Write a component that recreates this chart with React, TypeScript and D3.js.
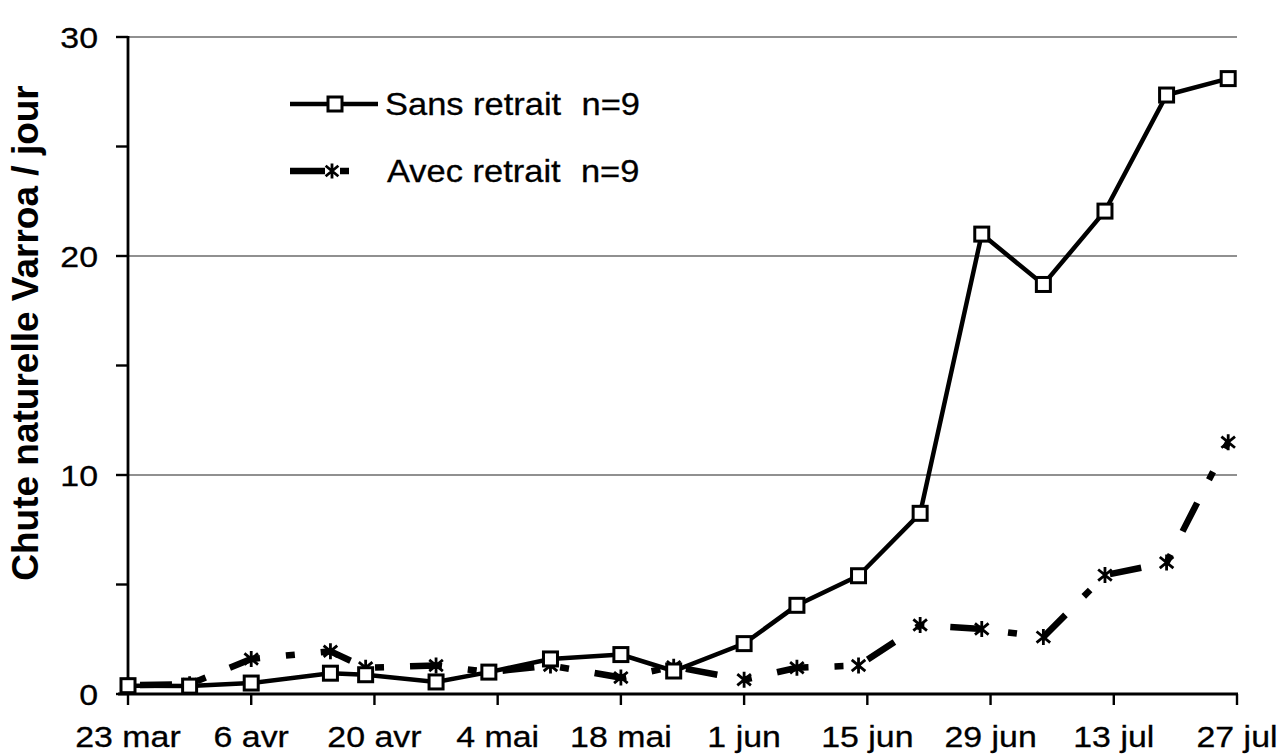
import React from "react";
import * as d3 from "d3";

const dates = [
  "2001-03-23", "2001-03-30", "2001-04-06", "2001-04-15", "2001-04-19",
  "2001-04-27", "2001-05-03", "2001-05-10", "2001-05-18", "2001-05-24",
  "2001-06-01", "2001-06-07", "2001-06-14", "2001-06-21", "2001-06-28",
  "2001-07-05", "2001-07-12", "2001-07-19", "2001-07-26",
];
const sansRetrait = [0.38, 0.36, 0.5, 0.95, 0.88, 0.55, 1.0, 1.6, 1.8, 1.05, 2.3, 4.05, 5.4, 8.25, 21.0, 18.7, 22.05, 27.35, 28.1];
const avecRetrait = [0.4, 0.45, 1.6, 1.95, 1.2, 1.3, 1.0, 1.3, 0.75, 1.25, 0.65, 1.2, 1.3, 3.15, 2.97, 2.6, 5.43, 6.0, 11.5];

const tickDates = [
  "2001-03-23", "2001-04-06", "2001-04-20", "2001-05-04", "2001-05-18",
  "2001-06-01", "2001-06-15", "2001-06-29", "2001-07-13", "2001-07-27",
];
const tickLabels = ["23 mar", "6 avr", "20 avr", "4 mai", "18 mai", "1 jun", "15 jun", "29 jun", "13 jul", "27 jul"];
const yTickValues = [0, 5, 10, 15, 20, 25, 30];
const yLabelValues = [0, 10, 20, 30];

const series1Name = "Sans retrait  n=9";
const series2Name = "Avec retrait  n=9";
const yTitle = "Chute naturelle Varroa / jour";

const W = 1282;
const H = 755;
const FONT = "'Liberation Sans', Arial, Helvetica, sans-serif";

const parse = d3.timeParse("%Y-%m-%d");

function asteriskPath(cx: number, cy: number, r: number) {
  const dx = r * 0.85;
  const dy = r * 0.7;
  return `M${cx},${cy - r}L${cx},${cy + r}M${cx - dx},${cy - dy}L${cx + dx},${cy + dy}M${cx - dx},${cy + dy}L${cx + dx},${cy - dy}`;
}

export default function App() {
  const x = d3
    .scaleTime()
    .domain([parse(tickDates[0])!, parse(tickDates[tickDates.length - 1])!])
    .range([128, 1237]);
  const y = d3.scaleLinear().domain([0, 30]).range([694, 37]);

  const pts1 = dates.map((d, i) => [x(parse(d)!), y(sansRetrait[i])] as [number, number]);
  const pts2 = dates.map((d, i) => [x(parse(d)!), y(avecRetrait[i])] as [number, number]);
  const line = d3.line<[number, number]>();

  const x0 = x.range()[0];
  const x1 = x.range()[1];
  const sq = 14;
  const textStroke = { stroke: "#000", strokeWidth: 0.3 };

  return (
    <svg
      width={W}
      height={H}
      viewBox={`0 0 ${W} ${H}`}
      style={{ position: "absolute", left: 0, top: 0, background: "#fff" }}
      fontFamily={FONT}
    >
      <rect x={0} y={0} width={W} height={H} fill="#fff" />
      {/* gridlines */}
      {yLabelValues
        .filter((v) => v > 0)
        .map((v) => (
          <line key={"g" + v} x1={x0} x2={x1} y1={y(v)} y2={y(v)} stroke="#222" strokeWidth={1.2} />
        ))}
      {/* y axis */}
      <line x1={x0} x2={x0} y1={y(30) - 1} y2={y(0)} stroke="#000" strokeWidth={2.8} />
      {yTickValues.map((v) => (
        <line key={"yt" + v} x1={x0 - 12} x2={x0} y1={y(v)} y2={y(v)} stroke="#000" strokeWidth={2.4} />
      ))}
      {yLabelValues.map((v) => (
        <text
          key={"yl" + v}
          transform={`translate(98,${y(v) + 10.5}) scale(1.13,1)`}
          textAnchor="end"
          fontSize={30}
          fill="#000"
          {...textStroke}
        >
          {v}
        </text>
      ))}
      {/* x axis */}
      <line x1={x0 - 10} x2={x1 + 1} y1={y(0)} y2={y(0)} stroke="#000" strokeWidth={2.8} />
      {tickDates.map((d, i) => {
        const tx = x(parse(d)!);
        return (
          <g key={"xt" + i}>
            <line x1={tx} x2={tx} y1={y(0)} y2={y(0) + 11} stroke="#000" strokeWidth={2.4} />
            <text
              transform={`translate(${tx},747) scale(1.13,1)`}
              textAnchor="middle"
              fontSize={30}
              fill="#000"
              {...textStroke}
            >
              {tickLabels[i]}
            </text>
          </g>
        );
      })}
      {/* y title */}
      <text
        transform={`translate(38,333) rotate(-90)`}
        textAnchor="middle"
        fontSize={37}
        fontWeight="bold"
        fill="#000"
      >
        {yTitle}
      </text>

      {/* series 2: dashed */}
      <path
        d={line(pts2) || ""}
        fill="none"
        stroke="#000"
        strokeWidth={6.5}
        strokeDasharray="32 26 9 26"
        strokeDashoffset={-12}
      />
      {pts2.map((p, i) => (
        <path key={"a" + i} d={asteriskPath(p[0], p[1], 8)} stroke="#000" strokeWidth={2.8} fill="none" />
      ))}

      {/* series 1: solid with squares */}
      <path d={line(pts1) || ""} fill="none" stroke="#000" strokeWidth={4.5} strokeLinejoin="miter" />
      {pts1.map((p, i) => (
        <rect
          key={"s" + i}
          x={p[0] - sq / 2}
          y={p[1] - sq / 2}
          width={sq}
          height={sq}
          fill="#fff"
          stroke="#000"
          strokeWidth={3}
        />
      ))}

      {/* legend */}
      <line x1={290} x2={378} y1={104} y2={104} stroke="#000" strokeWidth={4.5} />
      <rect x={335 - sq / 2} y={104 - sq / 2} width={sq} height={sq} fill="#fff" stroke="#000" strokeWidth={3} />
      <text transform="translate(385,115) scale(1.13,1)" fontSize={30.5} fill="#000" {...textStroke}>
        {series1Name.split("  ")[0]}
        <tspan dx={18}>{series1Name.split("  ")[1]}</tspan>
      </text>
      <line x1={290} x2={349} y1={171} y2={171} stroke="#000" strokeWidth={6.5} strokeDasharray="35 15 9" />
      <path d={asteriskPath(332, 171, 7.5)} stroke="#000" strokeWidth={2.8} fill="none" />
      <text transform="translate(387,182) scale(1.13,1)" fontSize={30.5} fill="#000" {...textStroke}>
        {series2Name.split("  ")[0]}
        <tspan dx={18}>{series2Name.split("  ")[1]}</tspan>
      </text>
    </svg>
  );
}
